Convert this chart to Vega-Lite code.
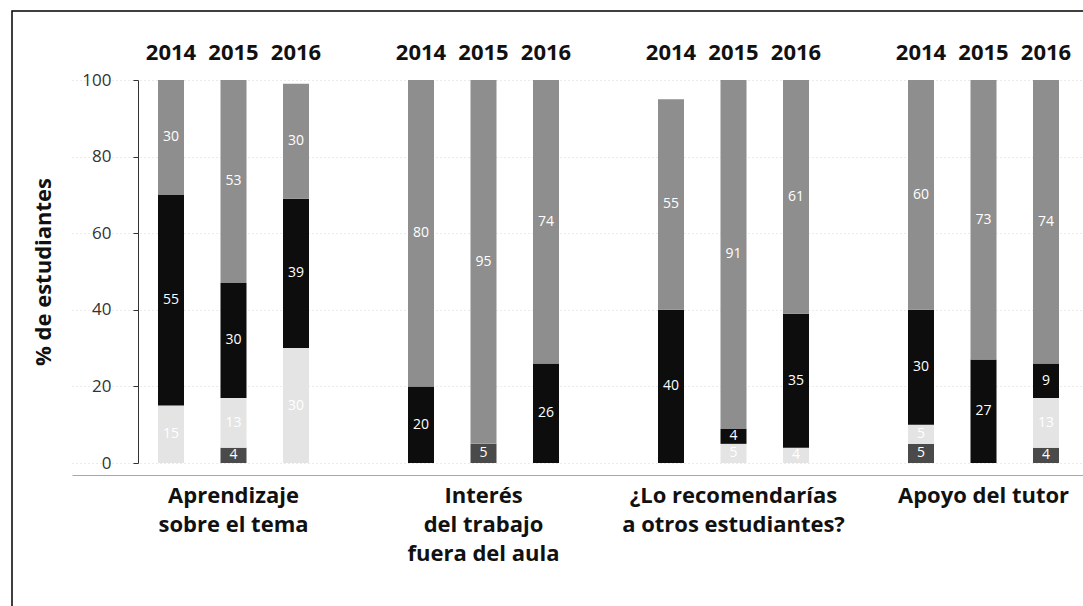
{
  "$schema": "https://vega.github.io/schema/vega-lite/v6.json",
  "width": 1072,
  "height": 596,
  "autosize": "none",
  "padding": {"left": 12, "top": 11, "right": 0, "bottom": 0},
  "background": "white",
  "config": {
    "view": {"stroke": "#000", "strokeWidth": 1.5},
    "font": "Open Sans"
  },
  "data": {
    "values": [
      {"grupo": "Aprendizaje\nsobre el tema", "year": 2014, "cat": "Poco", "v": 15},
      {"grupo": "Aprendizaje\nsobre el tema", "year": 2014, "cat": "Bastante", "v": 55},
      {"grupo": "Aprendizaje\nsobre el tema", "year": 2014, "cat": "Mucho", "v": 30},
      {"grupo": "Aprendizaje\nsobre el tema", "year": 2015, "cat": "Nada", "v": 4},
      {"grupo": "Aprendizaje\nsobre el tema", "year": 2015, "cat": "Poco", "v": 13},
      {"grupo": "Aprendizaje\nsobre el tema", "year": 2015, "cat": "Bastante", "v": 30},
      {"grupo": "Aprendizaje\nsobre el tema", "year": 2015, "cat": "Mucho", "v": 53},
      {"grupo": "Aprendizaje\nsobre el tema", "year": 2016, "cat": "Poco", "v": 30},
      {"grupo": "Aprendizaje\nsobre el tema", "year": 2016, "cat": "Bastante", "v": 39},
      {"grupo": "Aprendizaje\nsobre el tema", "year": 2016, "cat": "Mucho", "v": 30},
      {"grupo": "Interés\ndel trabajo\nfuera del aula", "year": 2014, "cat": "Bastante", "v": 20},
      {"grupo": "Interés\ndel trabajo\nfuera del aula", "year": 2014, "cat": "Mucho", "v": 80},
      {"grupo": "Interés\ndel trabajo\nfuera del aula", "year": 2015, "cat": "Nada", "v": 5},
      {"grupo": "Interés\ndel trabajo\nfuera del aula", "year": 2015, "cat": "Mucho", "v": 95},
      {"grupo": "Interés\ndel trabajo\nfuera del aula", "year": 2016, "cat": "Bastante", "v": 26},
      {"grupo": "Interés\ndel trabajo\nfuera del aula", "year": 2016, "cat": "Mucho", "v": 74},
      {"grupo": "¿Lo recomendarías\na otros estudiantes?", "year": 2014, "cat": "Bastante", "v": 40},
      {"grupo": "¿Lo recomendarías\na otros estudiantes?", "year": 2014, "cat": "Mucho", "v": 55},
      {"grupo": "¿Lo recomendarías\na otros estudiantes?", "year": 2015, "cat": "Poco", "v": 5},
      {"grupo": "¿Lo recomendarías\na otros estudiantes?", "year": 2015, "cat": "Bastante", "v": 4},
      {"grupo": "¿Lo recomendarías\na otros estudiantes?", "year": 2015, "cat": "Mucho", "v": 91},
      {"grupo": "¿Lo recomendarías\na otros estudiantes?", "year": 2016, "cat": "Poco", "v": 4},
      {"grupo": "¿Lo recomendarías\na otros estudiantes?", "year": 2016, "cat": "Bastante", "v": 35},
      {"grupo": "¿Lo recomendarías\na otros estudiantes?", "year": 2016, "cat": "Mucho", "v": 61},
      {"grupo": "Apoyo del tutor", "year": 2014, "cat": "Nada", "v": 5},
      {"grupo": "Apoyo del tutor", "year": 2014, "cat": "Poco", "v": 5},
      {"grupo": "Apoyo del tutor", "year": 2014, "cat": "Bastante", "v": 30},
      {"grupo": "Apoyo del tutor", "year": 2014, "cat": "Mucho", "v": 60},
      {"grupo": "Apoyo del tutor", "year": 2015, "cat": "Bastante", "v": 27},
      {"grupo": "Apoyo del tutor", "year": 2015, "cat": "Mucho", "v": 73},
      {"grupo": "Apoyo del tutor", "year": 2016, "cat": "Nada", "v": 4},
      {"grupo": "Apoyo del tutor", "year": 2016, "cat": "Poco", "v": 13},
      {"grupo": "Apoyo del tutor", "year": 2016, "cat": "Bastante", "v": 9},
      {"grupo": "Apoyo del tutor", "year": 2016, "cat": "Mucho", "v": 74}
    ]
  },
  "transform": [
    {"calculate": "indexof(['Nada','Poco','Bastante','Mucho'], datum.cat)", "as": "ord"},
    {"stack": "v", "groupby": ["grupo", "year"], "sort": [{"field": "ord", "order": "ascending"}], "as": ["y0", "y1"]},
    {"calculate": "(datum.y0 + datum.y1) / 2", "as": "mid"}
  ],
  "encoding": {
    "x": {
      "field": "grupo",
      "type": "nominal",
      "sort": null,
      "scale": {"range": [60, 1100], "paddingInner": 0.25, "paddingOuter": 0.205, "align": 0.661},
      "axis": {
        "orient": "bottom",
        "offset": -132,
        "title": null,
        "ticks": false,
        "domainColor": "#a8a8a8",
        "domainWidth": 1,
        "labelFont": "Open Sans",
        "labelFontSize": 22,
        "labelFontWeight": "bold",
        "labelColor": "#111",
        "labelPadding": 10,
        "labelLineHeight": 29,
        "labelLimit": 0,
        "labelOverlap": false,
        "labelAngle": 0,
        "labelExpr": "split(datum.label, '\\n')"
      }
    },
    "xOffset": {
      "field": "year",
      "type": "nominal",
      "scale": {"paddingInner": 0.584, "paddingOuter": 0.292}
    }
  },
  "layer": [
    {
      "mark": {"type": "bar"},
      "encoding": {
        "y": {
          "field": "y0",
          "type": "quantitative",
          "scale": {"domain": [0, 100], "range": [452, 69], "nice": false},
          "axis": {
            "orient": "left",
            "offset": -126,
            "values": [0, 20, 40, 60, 80, 100],
            "title": "% de estudiantes",
            "titleFont": "Open Sans",
            "titleFontSize": 22,
            "titleFontWeight": "bold",
            "titleColor": "#111",
            "titlePadding": 26,
            "labelFont": "Open Sans",
            "labelFontSize": 17,
            "labelColor": "#333",
            "labelPadding": 22,
            "tickSize": 5,
            "tickColor": "#333",
            "domainColor": "#333",
            "grid": true,
            "gridColor": "#d6d6d6",
            "gridDash": [1, 3]
          }
        },
        "y2": {"field": "y1"},
        "color": {
          "field": "cat",
          "type": "nominal",
          "scale": {"domain": ["Nada", "Poco", "Bastante", "Mucho"], "range": ["#4a4a4a", "#e4e4e4", "#0d0d0d", "#8e8e8e"]},
          "legend": null
        }
      }
    },
    {
      "mark": {"type": "text", "color": "white", "fontSize": 14, "font": "Open Sans"},
      "encoding": {
        "y": {"field": "mid", "type": "quantitative"},
        "text": {"field": "v", "type": "quantitative"}
      }
    },
    {
      "transform": [{"aggregate": [{"op": "count", "as": "n"}], "groupby": ["grupo", "year"]}],
      "mark": {"type": "text", "fontSize": 22, "fontWeight": "bold", "font": "Open Sans", "color": "#111", "dy": -27},
      "encoding": {
        "y": {"datum": 100, "type": "quantitative"},
        "text": {"field": "year", "type": "nominal"}
      }
    }
  ]
}
